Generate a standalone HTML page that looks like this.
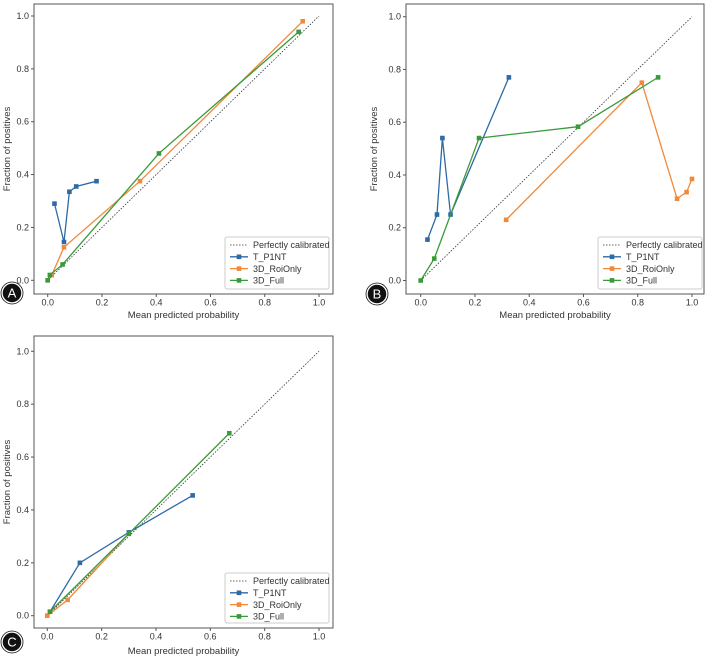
<!DOCTYPE html>
<html><head><meta charset="utf-8">
<style>
body{margin:0;background:#fff;width:709px;height:658px;overflow:hidden;font-family:"Liberation Sans",sans-serif;}
svg{position:absolute;left:0;top:0}
text{font-family:"Liberation Sans",sans-serif;fill:#333}
</style></head><body>
<svg id="fig" width="709" height="658"></svg>
<script>
const seriesNames = ["T_P1NT","3D_RoiOnly","3D_Full"];
const seriesColors = ["#2e6aa6","#f0893a","#3a9a3a"];
const tickLabels = ["0.0","0.2","0.4","0.6","0.8","1.0"];
const tickValues = [0,0.2,0.4,0.6,0.8,1.0];
// Panel A
const aTX=[0.025,0.06,0.08,0.105,0.18], aTY=[0.29,0.145,0.335,0.355,0.375];
const aRX=[0,0.015,0.06,0.34,0.94], aRY=[0,0.02,0.125,0.375,0.98];
const aFX=[0,0.008,0.055,0.41,0.925], aFY=[0,0.02,0.06,0.48,0.94];
// Panel B
const bTX=[0.025,0.06,0.08,0.11,0.325], bTY=[0.155,0.25,0.54,0.25,0.77];
const bRX=[0.315,0.815,0.945,0.98,1.0], bRY=[0.23,0.75,0.31,0.335,0.385];
const bFX=[0,0.05,0.215,0.58,0.875], bFY=[0,0.083,0.54,0.583,0.77];
// Panel C
const cTX=[0.01,0.12,0.3,0.535], cTY=[0.015,0.2,0.315,0.455];
const cRX=[0,0.075,0.3], cRY=[0,0.06,0.31];
const cFX=[0.01,0.3,0.67], cFY=[0.015,0.31,0.69];

const NS="http://www.w3.org/2000/svg";
const fig=document.getElementById('fig');
function mk(tag,attrs,parent){const e=document.createElementNS(NS,tag);for(const k in attrs)e.setAttribute(k,attrs[k]);(parent||fig).appendChild(e);return e;}

const panels=[
 {id:'a',letter:'A',box:[34,4,333,294],x0:47.7,x1:319,y0:280.3,y1:16,leg:[225,237,329,289],circ:[12,293],xl:318,yl:10,
  data:[[aTX,aTY],[aRX,aRY],[aFX,aFY]]},
 {id:'b',letter:'B',box:[406,4,704,294],x0:420.7,x1:692,y0:280.5,y1:16.7,leg:[598,237,702,289],circ:[377,294],xl:318,yl:377,
  data:[[bTX,bTY],[bRX,bRY],[bFX,bFY]]},
 {id:'c',letter:'C',box:[34,336,333,628],x0:47.3,x1:319,y0:615.7,y1:351.3,leg:[225,573,329,623],circ:[12,642],xl:654,yl:10,
  data:[[cTX,cTY],[cRX,cRY],[cFX,cFY]]}
];

panels.forEach(p=>{
  const g=mk('g',{});
  
  
  const sx=v=>p.x0+(p.x1-p.x0)*v, sy=v=>p.y0+(p.y1-p.y0)*v;
  const [l,t,r,b]=p.box;
  const frame=mk('rect',{x:l,y:t,width:r-l,height:b-t,fill:'none',stroke:'#555','stroke-width':1},g);
  
  
  tickValues.forEach((v,i)=>{
    mk('line',{x1:sx(v),x2:sx(v),y1:b,y2:b+3,stroke:'#555'},g);
    const tx=mk('text',{x:sx(v),y:b+11.5,'font-size':9,'text-anchor':'middle'},g);
    tx.textContent=tickLabels[i];
    
    
    mk('line',{x1:l-3,x2:l,y1:sy(v),y2:sy(v),stroke:'#555'},g);
    const ty=mk('text',{x:l-5,y:sy(v)+3,'font-size':9,'text-anchor':'end'},g);
    ty.textContent=tickLabels[i];
    
    
  });
  const xt=mk('text',{x:(l+r)/2,y:p.xl,'font-size':9.5,'text-anchor':'middle'},g);
  xt.textContent='Mean predicted probability';
  
  
  const ym=(t+b)/2;
  const yt=mk('text',{x:p.yl,y:ym,'font-size':9.5,'text-anchor':'middle',transform:`rotate(-90 ${p.yl} ${ym})`},g);
  yt.textContent='Fraction of positives';
  
  
  const diag=mk('line',{x1:sx(0),y1:sy(0),x2:sx(1),y2:sy(1),stroke:'#333','stroke-width':0.8,'stroke-dasharray':'1.5,1.5'},g);
  
  
  p.data.forEach((d,si)=>{
    const [xs,ys]=d;
    const pts=xs.map((x,i)=>sx(x)+','+sy(ys[i])).join(' ');
    const pl=mk('polyline',{points:pts,fill:'none',stroke:seriesColors[si],'stroke-width':1.3},g);
    
    
    xs.forEach((x,i)=>{
      const m=mk('rect',{x:sx(x)-2.3,y:sy(ys[i])-2.3,width:4.6,height:4.6,fill:seriesColors[si]},g);
      
      
    });
  });
  const [ll,lt,lr,lb]=p.leg;
  const lg=mk('g',{},g);
  
  
  mk('rect',{x:ll,y:lt,width:lr-ll,height:lb-lt,fill:'#fff',stroke:'#ccc',rx:2},lg);
  const labels=['Perfectly calibrated'].concat(seriesNames);
  labels.forEach((lab,i)=>{
    const yy=lt+8+i*11.8;
    if(i===0){mk('line',{x1:ll+5,x2:ll+23,y1:yy,y2:yy,stroke:'#333','stroke-width':0.8,'stroke-dasharray':'1.5,1.5'},lg);}
    else{mk('line',{x1:ll+5,x2:ll+23,y1:yy,y2:yy,stroke:seriesColors[i-1],'stroke-width':1.3},lg);
      mk('rect',{x:ll+11.7,y:yy-2.3,width:4.6,height:4.6,fill:seriesColors[i-1]},lg);}
    const lt2=mk('text',{x:ll+28,y:yy+3.2,'font-size':9},lg);
    lt2.textContent=lab;
    
    
  });
  const cg=mk('g',{},g);
  
  
  mk('circle',{cx:p.circ[0],cy:p.circ[1],r:10,fill:'#111',stroke:'#fff','stroke-width':1.5},cg);
  mk('circle',{cx:p.circ[0],cy:p.circ[1],r:11,fill:'none',stroke:'#111','stroke-width':0.8},cg);
  const ct=mk('text',{x:p.circ[0],y:p.circ[1]+4.5,'font-size':13,'text-anchor':'middle',style:'fill:#fff'},cg);
  ct.textContent=p.letter;
});
</script>
</body></html>
